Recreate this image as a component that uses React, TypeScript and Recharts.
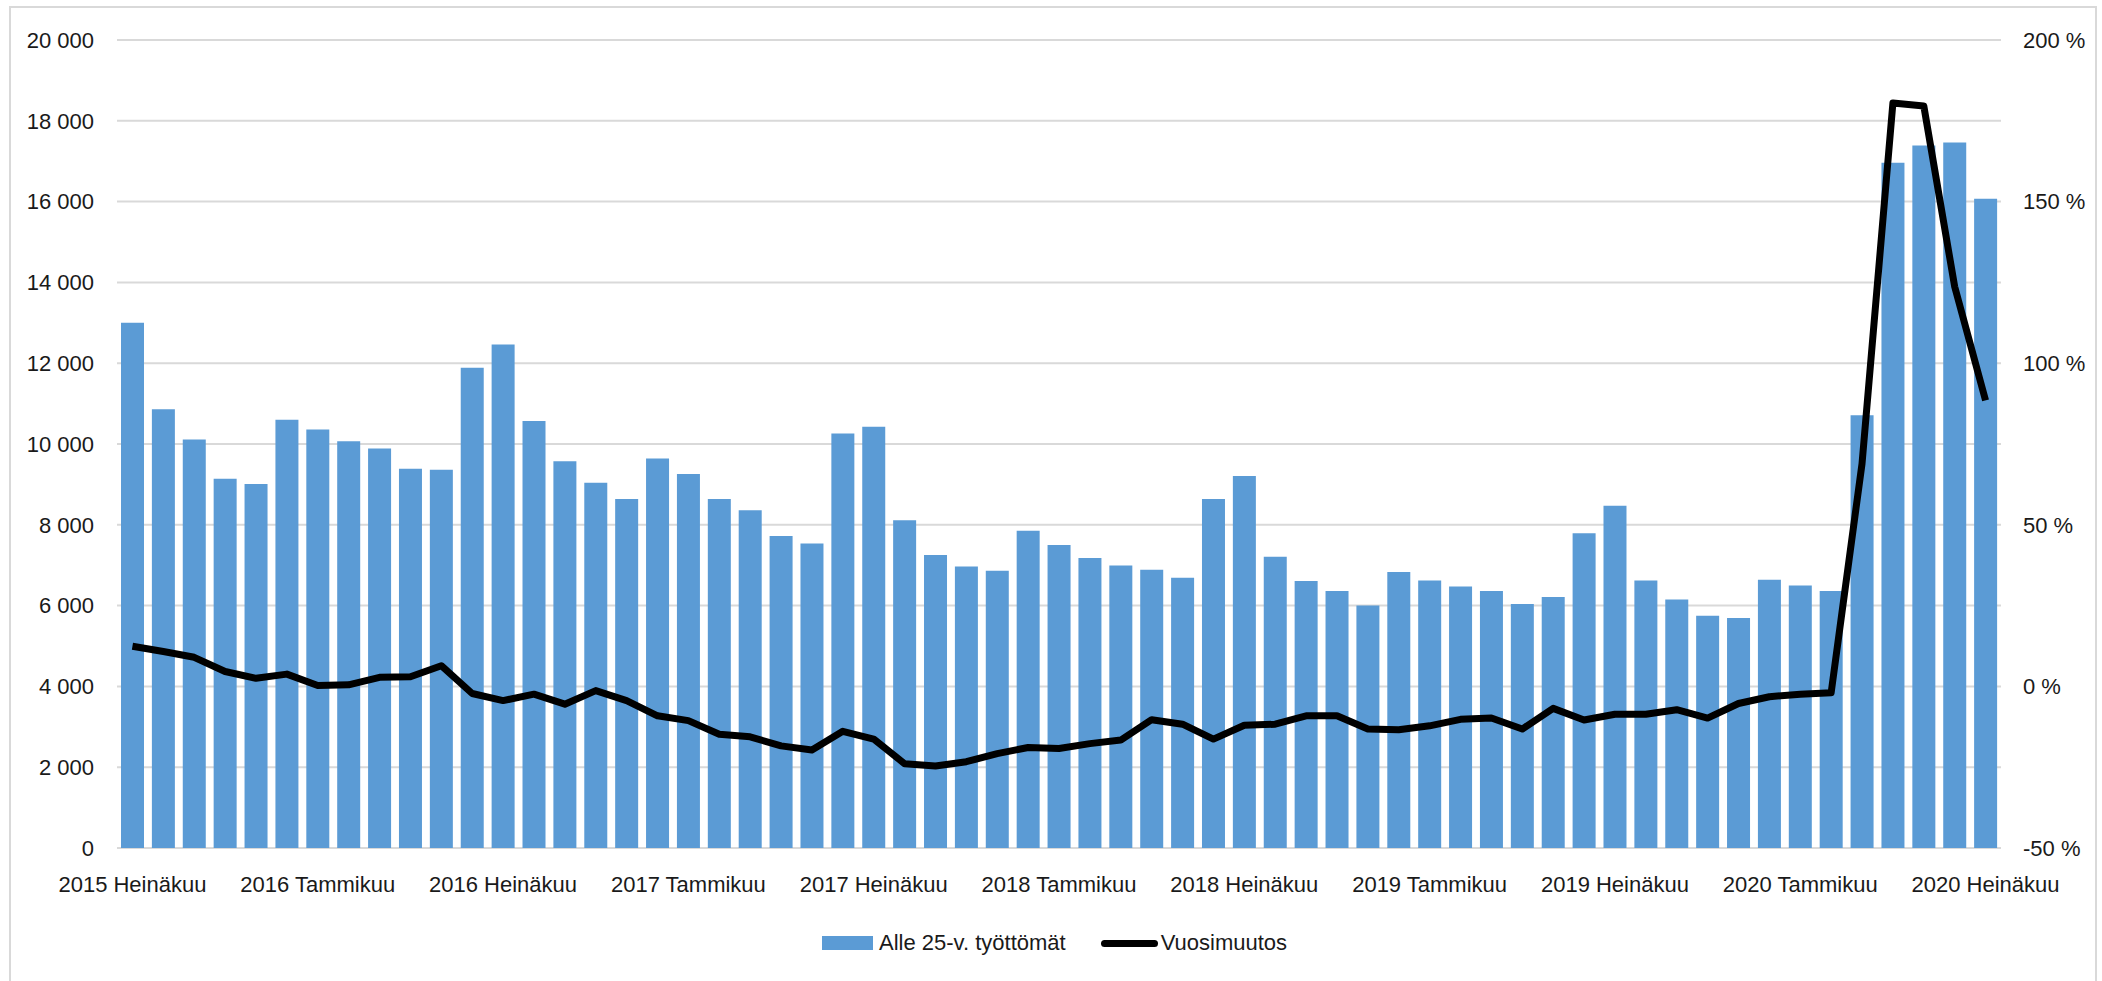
import React from "react";
import { ComposedChart, Bar, Line, XAxis, YAxis, CartesianGrid, Legend } from "recharts";

const months: string[] = [
  "2015 Heinäkuu", "2015 Elokuu", "2015 Syyskuu", "2015 Lokakuu", "2015 Marraskuu", "2015 Joulukuu",
  "2016 Tammikuu", "2016 Helmikuu", "2016 Maaliskuu", "2016 Huhtikuu", "2016 Toukokuu", "2016 Kesäkuu",
  "2016 Heinäkuu", "2016 Elokuu", "2016 Syyskuu", "2016 Lokakuu", "2016 Marraskuu", "2016 Joulukuu",
  "2017 Tammikuu", "2017 Helmikuu", "2017 Maaliskuu", "2017 Huhtikuu", "2017 Toukokuu", "2017 Kesäkuu",
  "2017 Heinäkuu", "2017 Elokuu", "2017 Syyskuu", "2017 Lokakuu", "2017 Marraskuu", "2017 Joulukuu",
  "2018 Tammikuu", "2018 Helmikuu", "2018 Maaliskuu", "2018 Huhtikuu", "2018 Toukokuu", "2018 Kesäkuu",
  "2018 Heinäkuu", "2018 Elokuu", "2018 Syyskuu", "2018 Lokakuu", "2018 Marraskuu", "2018 Joulukuu",
  "2019 Tammikuu", "2019 Helmikuu", "2019 Maaliskuu", "2019 Huhtikuu", "2019 Toukokuu", "2019 Kesäkuu",
  "2019 Heinäkuu", "2019 Elokuu", "2019 Syyskuu", "2019 Lokakuu", "2019 Marraskuu", "2019 Joulukuu",
  "2020 Tammikuu", "2020 Helmikuu", "2020 Maaliskuu", "2020 Huhtikuu", "2020 Toukokuu", "2020 Kesäkuu",
  "2020 Heinäkuu",
];

const unemployedUnder25: number[] = [
  13000, 10860, 10110, 9140, 9010, 10600, 10360, 10070, 9890, 9390, 9360, 11890,
  12460, 10570, 9570, 9040, 8640, 9640, 9260, 8640, 8360, 7720, 7540, 10260,
  10430, 8110, 7250, 6970, 6860, 7850, 7500, 7180, 6990, 6890, 6690, 8640,
  9210, 7210, 6610, 6360, 6000, 6830, 6620, 6470, 6360, 6040, 6210, 7790,
  8470, 6620, 6150, 5750, 5690, 6640, 6500, 6360, 10710, 16960, 17390, 17460,
  16070,
];

const yearlyChange: number[] = [
  12.4, 10.8, 9.0, 4.6, 2.5, 3.8, 0.3, 0.5, 2.8, 3.0, 6.4, -2.2,
  -4.4, -2.4, -5.5, -1.3, -4.4, -9.1, -10.6, -14.8, -15.6, -18.4, -19.7, -13.9,
  -16.3, -23.9, -24.6, -23.3, -20.8, -18.9, -19.2, -17.7, -16.6, -10.3, -11.7, -16.3,
  -12.0, -11.7, -9.1, -9.1, -13.2, -13.4, -12.2, -10.2, -9.8, -13.2, -6.8, -10.4,
  -8.6, -8.6, -7.2, -9.8, -5.3, -3.2, -2.4, -2.0, 68.9, 180.5, 179.6, 123.7,
  88.5,
];

const leftTicks: number[] = [0, 2000, 4000, 6000, 8000, 10000, 12000, 14000, 16000, 18000, 20000];
const rightTicks: number[] = [-50, 0, 50, 100, 150, 200];

const barName = "Alle 25-v. työttömät";
const lineName = "Vuosimuutos";

const data = months.map((m, i) => ({
  month: m,
  bars: unemployedUnder25[i],
  change: yearlyChange[i],
}));

const FONT = "'Liberation Sans', Arial, sans-serif";
const TEXT = "#1a1a1a";
const BLUE = "#5b9bd5";
const GRID = "#d9d9d9";

const fmtThousands = (n: number) =>
  n >= 1000 ? `${Math.floor(n / 1000)} ${String(n % 1000).padStart(3, "0")}` : `${n}`;

const LegendContent = () => (
  <div
    style={{
      display: "flex",
      alignItems: "center",
      height: 30,
      fontFamily: FONT,
      fontSize: 22,
      color: TEXT,
      whiteSpace: "nowrap",
    }}
  >
    <span style={{ display: "inline-block", width: 51, height: 14, background: BLUE, marginRight: 6 }} />
    <span>{barName}</span>
    <span
      style={{
        display: "inline-block",
        width: 57,
        height: 7,
        background: "#000",
        borderRadius: 4,
        marginLeft: 35,
        marginRight: 3,
      }}
    />
    <span>{lineName}</span>
  </div>
);

export default function App() {
  return (
    <div style={{ position: "absolute", left: 0, top: 0, width: 2102, height: 981, overflow: "hidden", background: "#fff" }}>
      <style>{`body{margin:0;}`}</style>
      <div
        style={{
          position: "absolute",
          left: 9,
          top: 6,
          width: 2088,
          height: 1000,
          border: `2px solid ${GRID}`,
          boxSizing: "border-box",
        }}
      />
      <div style={{ position: "absolute", left: 0, top: 0 }}>
        <ComposedChart
          width={2102}
          height={981}
          data={data}
          margin={{ top: 40, right: 0, bottom: 0, left: 0 }}
          barSize={23}
          style={{ fontFamily: FONT }}
        >
          <CartesianGrid yAxisId="left" vertical={false} stroke={GRID} strokeWidth={2} />
          <XAxis
            dataKey="month"
            interval={5}
            tickLine={false}
            axisLine={false}
            height={133}
            tickMargin={22}
            tick={{ fontFamily: FONT, fontSize: 22, fill: TEXT }}
          />
          <YAxis
            yAxisId="left"
            domain={[0, 20000]}
            ticks={leftTicks}
            width={117}
            axisLine={false}
            tickLine={false}
            tickMargin={17}
            tickFormatter={fmtThousands}
            tick={{ fontFamily: FONT, fontSize: 22, fill: TEXT }}
          />
          <YAxis
            yAxisId="right"
            orientation="right"
            domain={[-50, 200]}
            ticks={rightTicks}
            width={101}
            axisLine={false}
            tickLine={false}
            tickMargin={16}
            tickFormatter={(v: number) => `${v} %`}
            tick={{ fontFamily: FONT, fontSize: 22, fill: TEXT, textAnchor: "start" }}
          />
          <Bar yAxisId="left" dataKey="bars" name={barName} fill={BLUE} isAnimationActive={false} />
          <Line
            yAxisId="right"
            dataKey="change"
            name={lineName}
            type="linear"
            stroke="#000"
            strokeWidth={7}
            strokeLinejoin="round"
            dot={false}
            activeDot={false}
            isAnimationActive={false}
          />
          <Legend
            layout="horizontal"
            verticalAlign="middle"
            align="center"
            content={LegendContent}
            wrapperStyle={{ left: 822, top: 928, width: 520, height: 30 }}
          />
        </ComposedChart>
      </div>
    </div>
  );
}
